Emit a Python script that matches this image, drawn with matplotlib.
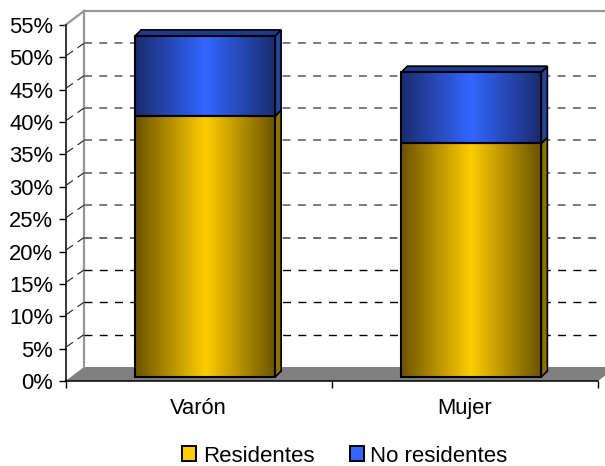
"""Stacked 3D style columns, residentes / no residentes"""
import matplotlib
matplotlib.use('Agg')
import matplotlib.pyplot as plt
from matplotlib.colors import LinearSegmentedColormap
from matplotlib.patches import Patch, Polygon
import numpy as np

categories = ['Varón', 'Mujer']
residentes = [40.3, 36.1]
no_residentes = [12.4, 11.0]
y_ticks = list(range(0, 60, 5))
y_labels = [f'{v}%' for v in y_ticks]

W, H = 605, 466
LEFT, RIGHT, TOP, BOTTOM = 65.5, 598.0, 25.0, 381.0
PX_X = (RIGHT - LEFT) / 2
PX_Y = (BOTTOM - TOP) / 55

plt.rcParams['font.family'] = ['Liberation Sans', 'DejaVu Sans']

fig = plt.figure(figsize=(W / 100, H / 100), dpi=100)
ax = fig.add_axes([LEFT / W, 1 - BOTTOM / H, (RIGHT - LEFT) / W, (BOTTOM - TOP) / H])
ax.set_xlim(0, 2)
ax.set_ylim(0, 55)

# depth of the walls, in data units
wall_dx = 18.5 / PX_X
wall_dy = 14 / PX_Y

# floor and back wall
ax.add_patch(Polygon([(0, 0), (wall_dx, wall_dy), (2 + wall_dx, wall_dy), (2, 0)],
                     closed=True, fc='#808080', ec='none', zorder=1, clip_on=False))
ax.plot([wall_dx, wall_dx], [wall_dy, 55 + wall_dy], color='#969696', lw=1.6, zorder=2, clip_on=False)
ax.plot([wall_dx, 2 + wall_dx], [55 + wall_dy] * 2, color='#969696', lw=1.6, zorder=2, clip_on=False)
ax.plot([0, wall_dx], [55, 55 + wall_dy], color='#969696', lw=1.6, zorder=2, clip_on=False)

# grid on the back wall and on the side
for v in y_ticks[1:-1]:
    if v >= 25:
        col, lw = '#707070', 1.3
    elif v == 20:
        col, lw = '#404040', 1.1
    else:
        col, lw = '#000000', 1.0
    ax.plot([wall_dx, 2], [v + wall_dy] * 2, color=col, lw=lw,
            dashes=(5.7 / lw, 5.3 / lw), zorder=2, clip_on=False)
    ax.plot([0.004, wall_dx], [v + 0.3, v + wall_dy], color='#202020', lw=0.8,
            dashes=(7, 5), zorder=2, clip_on=False)

yellow = LinearSegmentedColormap.from_list('y', ['#6b5300', '#ffcc00', '#6b5300'])
blue = LinearSegmentedColormap.from_list('b', ['#1a2c6e', '#3366ff', '#1a2c6e'])
ramp = np.linspace(0, 1, 256).reshape(1, -1)

bar_w = 140 / PX_X
bar_dx = 6.5 / PX_X
bar_base = 4 / PX_Y
side_dx = 6 / PX_X
side_dy = 6 / PX_Y


def draw_block(x0, y0, y1, cmap, side_col, top_col=None):
    x1 = x0 + bar_w
    ax.imshow(ramp, cmap=cmap, extent=[x0, x1, y0, y1], aspect='auto', zorder=4,
              interpolation='bilinear', clip_on=False)
    ax.add_patch(Polygon([(x0, y0), (x1, y0), (x1, y1), (x0, y1)], closed=True,
                         fc='none', ec='black', lw=1.5, zorder=5, clip_on=False))
    ax.add_patch(Polygon([(x1, y0), (x1 + side_dx, y0 + side_dy), (x1 + side_dx, y1 + side_dy), (x1, y1)],
                         closed=True, fc=side_col, ec='black', lw=1.2, zorder=3, clip_on=False))
    if top_col:
        ax.add_patch(Polygon([(x0, y1), (x0 + side_dx, y1 + side_dy), (x1 + side_dx, y1 + side_dy), (x1, y1)],
                             closed=True, fc=top_col, ec='black', lw=1.2, zorder=3, clip_on=False))


for i, cat in enumerate(categories):
    x0 = i + 0.5 - bar_w / 2 + bar_dx
    top_r = residentes[i] + bar_base
    top_n = top_r + no_residentes[i]
    draw_block(x0, bar_base, top_r, yellow, '#8f7000')
    draw_block(x0, top_r, top_n, blue, '#24449f', '#1f3a8c')

ax.set_xlim(0, 2)
ax.set_ylim(0, 55)

# axes
for side in ['top', 'right']:
    ax.spines[side].set_visible(False)
for side in ['left', 'bottom']:
    ax.spines[side].set_linewidth(1.1)
    ax.spines[side].set_zorder(6)
ax.patch.set_visible(False)
ax.set_yticks(y_ticks, y_labels)
ax.set_xticks([0, 1, 2])
ax.set_xticks([0.5, 1.5], categories, minor=True)
ax.set_xticklabels([])
ax.tick_params(axis='y', length=5, width=1, labelsize=15.8, pad=4)
ax.tick_params(axis='x', which='major', length=5, width=1)
ax.tick_params(axis='x', which='minor', length=0, labelsize=15.8, pad=12)

handles = [Patch(fc='#ffcc00', ec='black', lw=1.4), Patch(fc='#3366ff', ec='black', lw=1.4)]
fig.legend(handles, ['Residentes', 'No residentes'], loc='center', ncols=2,
           bbox_to_anchor=(345 / W, 1 - 456 / H), frameon=False, fontsize=16,
           handlelength=0.62, handleheight=0.62, handletextpad=0.3, columnspacing=1.6,
           borderpad=0, borderaxespad=0)

fig.savefig('out.png', dpi=100)
